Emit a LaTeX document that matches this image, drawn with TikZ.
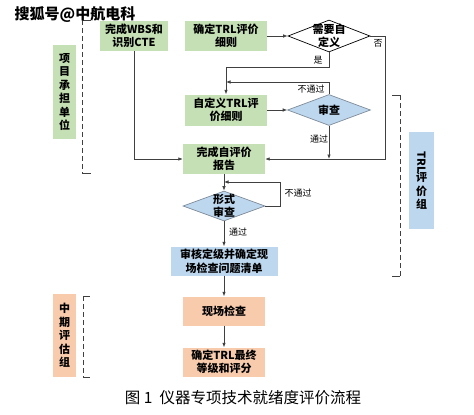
\documentclass[tikz,border=0pt]{standalone}
\usepackage{fontspec}
\usepackage{graphicx}
\setmainfont{Noto Sans CJK SC}
\usetikzlibrary{shapes.geometric,arrows.meta}
\definecolor{gfill}{HTML}{C5E0B4}
\definecolor{bfill}{HTML}{BDD7EE}
\definecolor{pfill}{HTML}{F8CBAD}
\definecolor{lcol}{HTML}{404040}
\definecolor{dcol}{HTML}{7F8C99}
\begin{document}
\begin{tikzpicture}[x=1pt,y=-1pt,
  box/.style={rectangle, inner sep=0pt, align=center, font=\fontsize{11}{13.5}\selectfont\bfseries},
  gbox/.style={box, fill=gfill},
  bbox/.style={box, fill=bfill},
  pbox/.style={box, fill=pfill},
  dia/.style={diamond, inner sep=0pt, line width=0.7pt},
  dtext/.style={inner sep=0pt, align=center, font=\fontsize{11}{13.5}\selectfont\bfseries},
  lab/.style={inner sep=0pt, font=\fontsize{9}{9}\selectfont},
  conn/.style={draw=lcol, line width=0.7pt, -{Latex[length=4.5pt,width=3.5pt]}},
  brk/.style={draw=lcol, line width=0.9pt, dash pattern=on 5pt off 3pt},
  tick/.style={draw=lcol, line width=0.9pt}
]
\useasboundingbox[fill=white] (0,0) rectangle (474,415);

% group boxes
\node[gbox, minimum width=23pt, minimum height=94pt] (g1) at (64.5,92) {项\\目\\承\\担\\单\\位};
\node[pbox, minimum width=23pt, minimum height=83pt] (g2) at (64.5,335.5) {中\\期\\评\\估\\组};
\node[bbox, minimum width=25pt, minimum height=97pt] (g3) at (421.5,180.5) {\rotatebox{-90}{TRL}\\[-1pt]评\\价\\组};

% brackets
\draw[brk] (82,20) -- (82,173);
\draw[tick] (82,20) -- (91,20);
\draw[tick] (82,173) -- (91,173);
\draw[brk] (83,296) -- (83,377);
\draw[tick] (83,296) -- (90,296);
\draw[tick] (83,377) -- (90,377);
\draw[brk] (400,95) -- (400,276);
\draw[tick] (392,95) -- (400,95);
\draw[tick] (392,276) -- (400,276);

% process nodes
\node[gbox, minimum width=68pt, minimum height=30pt] (wbs) at (134,36) {完成WBS和\\识别CTE};
\node[gbox, minimum width=82pt, minimum height=30pt] (qd) at (226,36) {确定TRL评价\\细则};
\node[dia, draw=black, fill=white, minimum width=82pt, minimum height=32pt] (need) at (329,36) {};
\node[dtext] (needt) at (need) {需要自\\定义};
\node[gbox, minimum width=82pt, minimum height=31pt] (zdy) at (226,110) {自定义TRL评\\价细则};
\node[dia, draw=dcol, fill=bfill, minimum width=83pt, minimum height=31pt] (sc) at (329,110) {};
\node[dtext] (sct) at (sc) {审查};
\node[gbox, minimum width=82pt, minimum height=30pt] (bg) at (224,159) {完成自评价\\报告};
\node[dia, draw=dcol, fill=bfill, minimum width=82pt, minimum height=30pt] (xs) at (224,206) {};
\node[dtext] (xst) at (xs) {形式\\审查};
\node[bbox, minimum width=107pt, minimum height=29pt] (sh) at (224,261) {审核定级并确定现\\场检查问题清单};
\node[pbox, minimum width=82pt, minimum height=29pt] (xc) at (224,311) {现场检查};
\node[pbox, minimum width=82pt, minimum height=29pt] (zz) at (224,362) {确定TRL最终\\等级和评分};

% helper coordinates
\coordinate (c1) at (226,82);
\coordinate (c2) at (329,159);
\coordinate (c3) at (224,182);

% connectors
\draw[conn] (qd.east) -- (need.west);
\draw[conn] (need.south) -- ++(0,15) -| (zdy.north);
\draw[conn] (need.east) -- ++(15,0) |- (bg.east);
\draw[conn] (wbs.south) |- (bg.west);
\draw[conn] (zdy.east) -- (sc.west);
\draw[conn] (sc.north) |- (c1);
\draw[conn] (sc.south) -- (c2);
\draw[conn] (bg.south) -- (xs.north);
\draw[conn] (xs.east) -- ++(15,0) |- (c3);
\draw[conn] (xs.south) -- (sh.north);
\draw[conn] (sh.south) -- (xc.north);
\draw[conn] (xc.south) -- (zz.north);

% labels
\node[lab] (l1) at (318,60) {是};
\node[lab] (l2) at (378,43) {否};
\node[lab] (l3) at (311,89) {不通过};
\node[lab] (l4) at (319,139) {通过};
\node[lab] (l5) at (298,193) {不通过};
\node[lab] (l6) at (238,232) {通过};

% watermark and caption
\node[inner sep=0pt, font=\fontsize{15}{15}\selectfont\bfseries] (wm) at (75,15) {搜狐号@中航电科};
\node[inner sep=0pt, font=\fontsize{15.5}{15.5}\selectfont] (cap) at (243,398) {图 1 \ 仪器专项技术就绪度评价流程};
\end{tikzpicture}
\end{document}
